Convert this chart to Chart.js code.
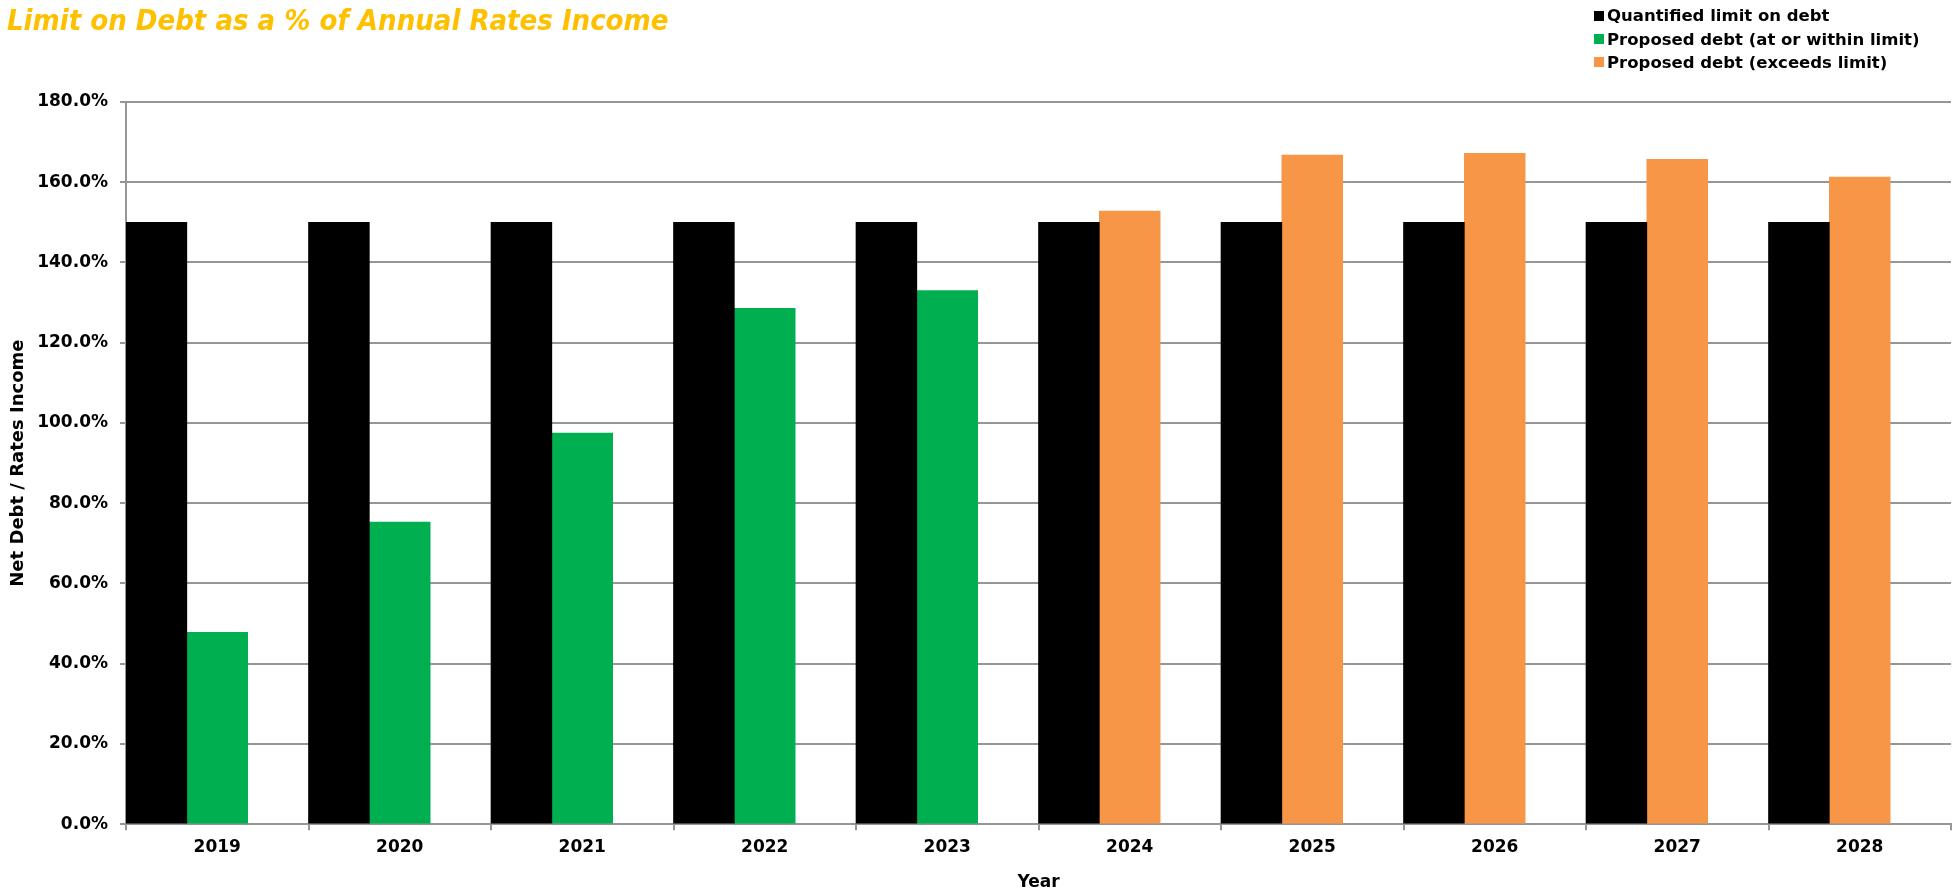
<!DOCTYPE html>
<html>
<head>
<meta charset="utf-8">
<title>Limit on Debt as a % of Annual Rates Income</title>
<script src="https://cdn.jsdelivr.net/npm/chart.js@4/dist/chart.umd.min.js"></script>
<style>
    html, body { margin: 0; padding: 0; background: #fff; }
    #wrap { position: relative; width: 1955px; height: 893px; }
    #legend {
        position: absolute; left: 1594px; top: 4px;
        font: bold 16.5px 'DejaVu Sans', sans-serif; color: #000;
    }
    #legend .item { display: flex; align-items: center; height: 23.4px; white-space: nowrap; }
    #legend .box { width: 10px; height: 10px; margin-right: 3px; }
</style>
</head>
<body>
<div id="wrap">
    <canvas id="debtChart"></canvas>
    <div id="legend"></div>
</div>
<script>
// Limite de deuda vs deuda propuesta, 2019-2028
const years = ['2019', '2020', '2021', '2022', '2023', '2024', '2025', '2026', '2027', '2028'];
const limitValues = [150, 150, 150, 150, 150, 150, 150, 150, 150, 150];
const withinValues = [47.8, 75.3, 97.5, 128.6, 133.0, null, null, null, null, null];
const exceedsValues = [null, null, null, null, null, 152.8, 166.8, 167.2, 165.7, 161.3];
const yTicks = { min: 0, max: 180, step: 20 };

const font = "'DejaVu Sans', sans-serif";
const gridColor = '#969696';

const chart = new Chart(document.getElementById('debtChart'), {
    type: 'bar',
    data: {
        labels: years,
        datasets: [
            { label: 'Quantified limit on debt', data: limitValues, backgroundColor: '#000000', stack: 'limit' },
            { label: 'Proposed debt (at or within limit)', data: withinValues, backgroundColor: '#00B050', stack: 'proposed' },
            { label: 'Proposed debt (exceeds limit)', data: exceedsValues, backgroundColor: '#F79646', stack: 'proposed' },
            // hueco vacio a la derecha de cada par de barras
            { label: '', data: years.map(() => null), stack: 'spacer' }
        ]
    },
    options: {
        responsive: true,
        maintainAspectRatio: false,
        animation: false,
        categoryPercentage: 1,
        barPercentage: 1,
        layout: { padding: { left: 7, right: 4, top: 0, bottom: 0 } },
        plugins: {
            legend: { display: false },
            tooltip: { enabled: false },
            title: {
                display: true,
                text: 'Limit on Debt as a % of Annual Rates Income',
                align: 'start',
                color: '#FFC000',
                font: { family: "'Liberation Sans Narrow', 'DejaVu Sans Condensed', sans-serif", size: 29, weight: 'bold', style: 'italic' },
                padding: { top: 5, bottom: 62.2 }
            }
        },
        scales: {
            x: {
                grid: { drawOnChartArea: false, drawTicks: true, tickLength: 6, color: gridColor, lineWidth: 2 },
                border: { color: gridColor, width: 2 },
                ticks: { color: '#000', padding: 7, font: { family: font, size: 17, weight: 'bold' } },
                title: {
                    display: true, text: 'Year', color: '#000',
                    font: { family: font, size: 17, weight: 'bold' },
                    padding: { top: 8, bottom: 0 }
                }
            },
            y: {
                min: yTicks.min,
                max: yTicks.max,
                afterFit: (scale) => { scale.width = 119; },
                grid: { color: gridColor, lineWidth: 2, tickLength: 6 },
                border: { color: gridColor, width: 2 },
                ticks: {
                    stepSize: yTicks.step,
                    padding: 12,
                    color: '#000',
                    font: { family: font, size: 17, weight: 'bold' },
                    callback: v => v.toFixed(1) + '%'
                },
                title: {
                    display: true, text: 'Net Debt / Rates Income', color: '#000',
                    font: { family: font, size: 18, weight: 'bold' },
                    padding: { top: 1, bottom: 0 }
                }
            }
        }
    }
});

// Leyenda a la derecha del titulo
document.getElementById('legend').innerHTML = chart.data.datasets
    .filter(d => d.label)
    .map(d => `<div class="item"><span class="box" style="background:${d.backgroundColor}"></span>${d.label}</div>`)
    .join('');
</script>
</body>
</html>
